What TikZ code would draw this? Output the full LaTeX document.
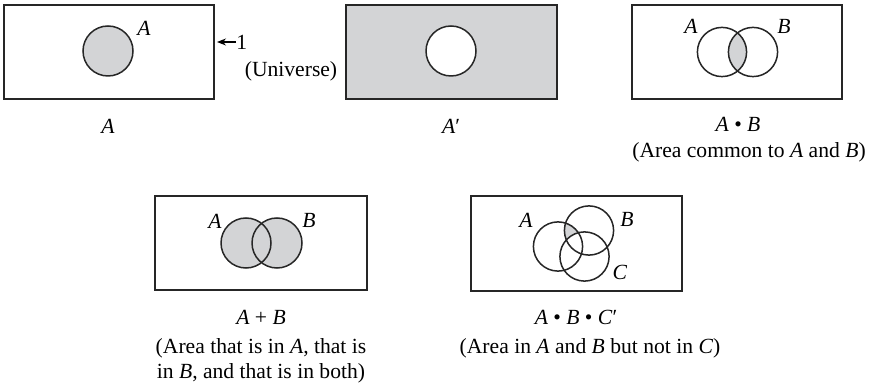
\documentclass[tikz,border=0pt]{standalone}
\usepackage{fontspec}
\setmainfont{Liberation Serif}
\usetikzlibrary{arrows.meta}
\definecolor{venngray}{RGB}{211,212,214}
\begin{document}
\begin{tikzpicture}[x=0.5pt,y=-0.5pt,
  frame/.style={draw=black!85,line width=0.8pt},
  ring/.style={draw=black!85,line width=0.75pt},
  lab/.style={font=\fontsize{10.8}{12.6}\selectfont,inner sep=0pt},
  note/.style={font=\fontsize{10.8}{12.6}\selectfont,inner sep=0pt,align=center}]
\useasboundingbox (0,0) rectangle (871,389);
% Box 1: A
\node[frame,minimum width=105pt,minimum height=47pt,inner sep=0pt] (b1) at (109,52) {};
\fill[venngray] (108,51) circle[radius=12.5pt];
\draw[ring] (108,51) circle[radius=12.5pt];
\node[lab] (la1) at (144,28) {\textit{A}};
\node[lab] (c1) at (108,126) {\textit{A}};
\node[lab,anchor=west] (one) at (236,42) {1};
\coordinate (tip) at (217,42);
\draw[-{Stealth[length=4.5pt,width=3.5pt]},line width=0.6pt] (one.west) -- (tip);
\node[lab] (univ) at (291,71) {(Universe)};
% Box 2: A'
\node[frame,fill=venngray,minimum width=105.5pt,minimum height=47pt,inner sep=0pt] (b2) at (451.5,52) {};
\fill[white] (451,51) circle[radius=12.5pt];
\draw[ring] (451,51) circle[radius=12.5pt];
\node[lab] (c2) at (451,126) {\textit{A}′};
% Box 3: A.B
\node[frame,minimum width=105pt,minimum height=47pt,inner sep=0pt] (b3) at (737,52) {};
\begin{scope}
  \clip (722,52) circle[radius=12.3pt];
  \fill[venngray] (753,52) circle[radius=12.3pt];
\end{scope}
\draw[ring] (722,52) circle[radius=12.3pt];
\draw[ring] (753,52) circle[radius=12.3pt];
\node[lab] (la3) at (691,26) {\textit{A}};
\node[lab] (lb3) at (784,26) {\textit{B}};
\node[lab] (c3) at (738,124) {\textit{A} • \textit{B}};
\node[note] (d3) at (749,152) {(Area common to \textit{A} and \textit{B})};
% Box 4: A+B
\node[frame,minimum width=106pt,minimum height=47pt,inner sep=0pt] (b4) at (261,243) {};
\fill[venngray] (246,243) circle[radius=12.5pt];
\fill[venngray] (277,243) circle[radius=12.5pt];
\draw[ring] (246,243) circle[radius=12.5pt];
\draw[ring] (277,243) circle[radius=12.5pt];
\node[lab] (la4) at (215,221) {\textit{A}};
\node[lab] (lb4) at (309,220) {\textit{B}};
\node[lab] (c4) at (261,317) {\textit{A} + \textit{B}};
\node[note] (d4) at (261,361) {(Area that is in \textit{A}, that is\\in \textit{B}, and that is in both)};
% Box 5: A.B.C'
\node[frame,minimum width=105.5pt,minimum height=47.5pt,inner sep=0pt] (b5) at (576.5,243.5) {};
\begin{scope}
  \clip (558,246.5) circle[radius=12.3pt];
  \clip (589,230.5) circle[radius=12.3pt];
  \fill[venngray,even odd rule] (540,200) rectangle (620,290) (584.5,256.5) circle[radius=12.3pt];
\end{scope}
\draw[ring] (558,246.5) circle[radius=12.3pt];
\draw[ring] (589,230.5) circle[radius=12.3pt];
\draw[ring] (584.5,256.5) circle[radius=12.3pt];
\node[lab] (la5) at (526,220) {\textit{A}};
\node[lab] (lb5) at (627,219) {\textit{B}};
\node[lab] (lc5) at (620,272) {\textit{C}};
\node[lab] (c5) at (576,317) {\textit{A} • \textit{B} • \textit{C}′};
\node[note] (d5) at (590,348) {(Area in \textit{A} and \textit{B} but not in \textit{C})};
\end{tikzpicture}
\end{document}
